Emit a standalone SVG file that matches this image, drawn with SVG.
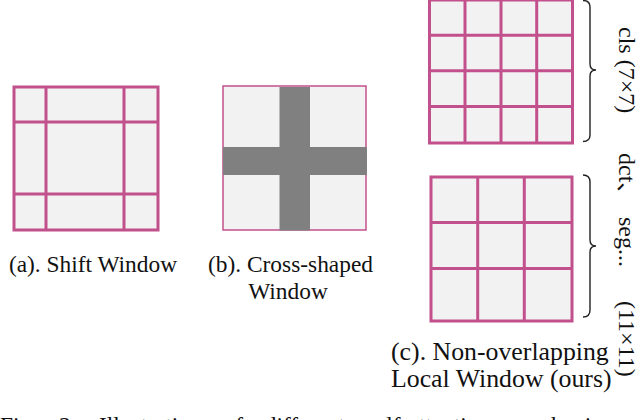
<svg xmlns="http://www.w3.org/2000/svg" width="640" height="420" viewBox="0 0 640 420">
<style>
.cell{fill:#f2f2f2;stroke:none}
.grid{stroke:#c2508c;stroke-width:3;fill:none}
.thin{stroke:#c2508c;stroke-width:1.5;fill:none}
.cross{fill:#808080}
text{font-family:'Liberation Serif','Noto Sans CJK SC',serif;fill:#111}
.lbl{font-size:23.4px}
.lblc{font-size:25.8px}
.rot{font-size:24px}
.brace{stroke:#222;stroke-width:1.4;fill:none}
</style>
<rect width="640" height="420" fill="#ffffff"/>

<g id="shift-window">
  <rect class="cell" x="14" y="87" width="144" height="143"/>
  <rect class="grid" x="14" y="87" width="144" height="143"/>
  <line class="grid" x1="46" y1="87" x2="46" y2="230"/>
  <line class="grid" x1="124" y1="87" x2="124" y2="230"/>
  <line class="grid" x1="14" y1="122" x2="158" y2="122"/>
  <line class="grid" x1="14" y1="194" x2="158" y2="194"/>
  <text class="lbl" x="93" y="272" text-anchor="middle">(a). Shift Window</text>
</g>

<g id="cross-window">
  <rect class="cell" x="223" y="86" width="143" height="144"/>
  <rect class="thin" x="223" y="86" width="143" height="144"/>
  <rect class="cross" x="279.5" y="87" width="30.5" height="143.5"/>
  <rect class="cross" x="223" y="147" width="144" height="28"/>
  <text class="lbl" x="290.5" y="272" text-anchor="middle">(b). Cross-shaped</text>
  <text class="lbl" x="288" y="298.5" text-anchor="middle">Window</text>
</g>

<g id="local-window-cls">
  <rect class="cell" x="429.5" y="0" width="143" height="143"/>
  <rect class="grid" x="429.5" y="0" width="143" height="143"/>
  <line class="grid" x1="465" y1="0" x2="465" y2="143"/>
  <line class="grid" x1="501" y1="0" x2="501" y2="143"/>
  <line class="grid" x1="536.7" y1="0" x2="536.7" y2="143"/>
  <line class="grid" x1="429.5" y1="35.3" x2="572.5" y2="35.3"/>
  <line class="grid" x1="429.5" y1="70.8" x2="572.5" y2="70.8"/>
  <line class="grid" x1="429.5" y1="106.5" x2="572.5" y2="106.5"/>
</g>

<g id="local-window-det">
  <rect class="cell" x="431" y="177" width="141" height="144"/>
  <rect class="grid" x="431" y="177" width="141" height="144"/>
  <line class="grid" x1="477.7" y1="177" x2="477.7" y2="321"/>
  <line class="grid" x1="524.3" y1="177" x2="524.3" y2="321"/>
  <line class="grid" x1="431" y1="222.5" x2="572" y2="222.5"/>
  <line class="grid" x1="431" y1="268.5" x2="572" y2="268.5"/>
  <text class="lblc" x="391" y="360">(c). Non-overlapping</text>
  <text class="lblc" x="391" y="387">Local Window (ours)</text>
</g>

<g id="braces">
  <path class="brace" d="M583,0.5 Q590,0.5 590,7 L590,64 Q590,70 596,70 Q590,70 590,76 L590,135 Q590,141.5 583,141.5"/>
  <path class="brace" d="M583,175 Q590,175 590,182 L590,240 Q590,246 596,246 Q590,246 590,252 L590,310 Q590,317 583,317"/>
</g>

<g id="side-labels">
  <text class="rot" transform="translate(619,27) rotate(90)">cls (7×7)</text>
  <text class="rot" transform="translate(619,153) rotate(90)"><tspan x="0">dct、</tspan><tspan x="64">seg...</tspan><tspan x="148">(11×11)</tspan></text>
</g>

<g id="caption">
  <text class="lbl" x="0" y="433" word-spacing="16">Fig. 2: Illustration of different self-attention mechanisms. I</text>
</g>
</svg>
